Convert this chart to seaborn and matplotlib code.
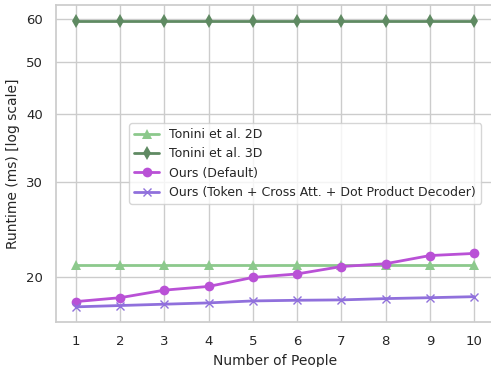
import numpy as np
import pandas as pd
import matplotlib
matplotlib.use("Agg")
import matplotlib.pyplot as plt
import seaborn as sns
from matplotlib.ticker import ScalarFormatter, NullFormatter, FixedLocator

# values
people = [1, 2, 3, 4, 5, 6, 7, 8, 9, 10]
tonini_2d = [21.0, 21.0, 21.0, 21.0, 21.0, 21.0, 21.0, 21.0, 21.0, 21.0]
tonini_3d = [59.6, 59.6, 59.6, 59.6, 59.6, 59.6, 59.6, 59.6, 59.6, 59.6]
ours_default = [18.0, 18.3, 18.9, 19.2, 19.95, 20.25, 20.9, 21.15, 21.9, 22.1]
ours_token = [17.6, 17.7, 17.8, 17.9, 18.05, 18.1, 18.13, 18.23, 18.3, 18.38]

series = [
    ("Tonini et al. 2D", tonini_2d, "#8cc98c", "^"),
    ("Tonini et al. 3D", tonini_3d, "#5f8a62", "d"),
    ("Ours (Default)", ours_default, "#b951d6", "o"),
    ("Ours (Token + Cross Att. + Dot Product Decoder)", ours_token, "#9070dc", "x"),
]

sns.set_theme(style="whitegrid")
plt.rcParams['font.family'] = ['DejaVu Sans']

fig = plt.figure(figsize=(4.91, 3.67), dpi=100)
ax = fig.add_axes([56 / 491, 45 / 367, 438 / 491, 317 / 367])

for name, vals, col, mk in series:
    df = pd.DataFrame({"people": people, "runtime": vals})
    sns.lineplot(data=df, x="people", y="runtime", ax=ax, color=col, marker=mk,
                 markersize=7 if mk != "x" else 6, linewidth=2, markeredgecolor=col,
                 markeredgewidth=1.0 if mk == "x" else 0, label=name)

ax.set_yscale("log")
ax.set_ylim(16.5, 63.7)
ax.set_xlim(0.55, 10.45)
ax.yaxis.set_major_locator(FixedLocator([20, 30, 40, 50, 60]))
ax.yaxis.set_major_formatter(ScalarFormatter())
ax.yaxis.set_minor_formatter(NullFormatter())
ax.yaxis.set_minor_locator(FixedLocator([]))
ax.set_xticks(people)
ax.set_xlabel("Number of People", fontsize=10)
ax.set_ylabel("Runtime (ms) [log scale]", fontsize=10)
ax.tick_params(labelsize=9.5)
ax.legend(loc="center right", fontsize=9, frameon=True, bbox_to_anchor=(0.985, 0.5))

plt.savefig("out.png", dpi=100)
